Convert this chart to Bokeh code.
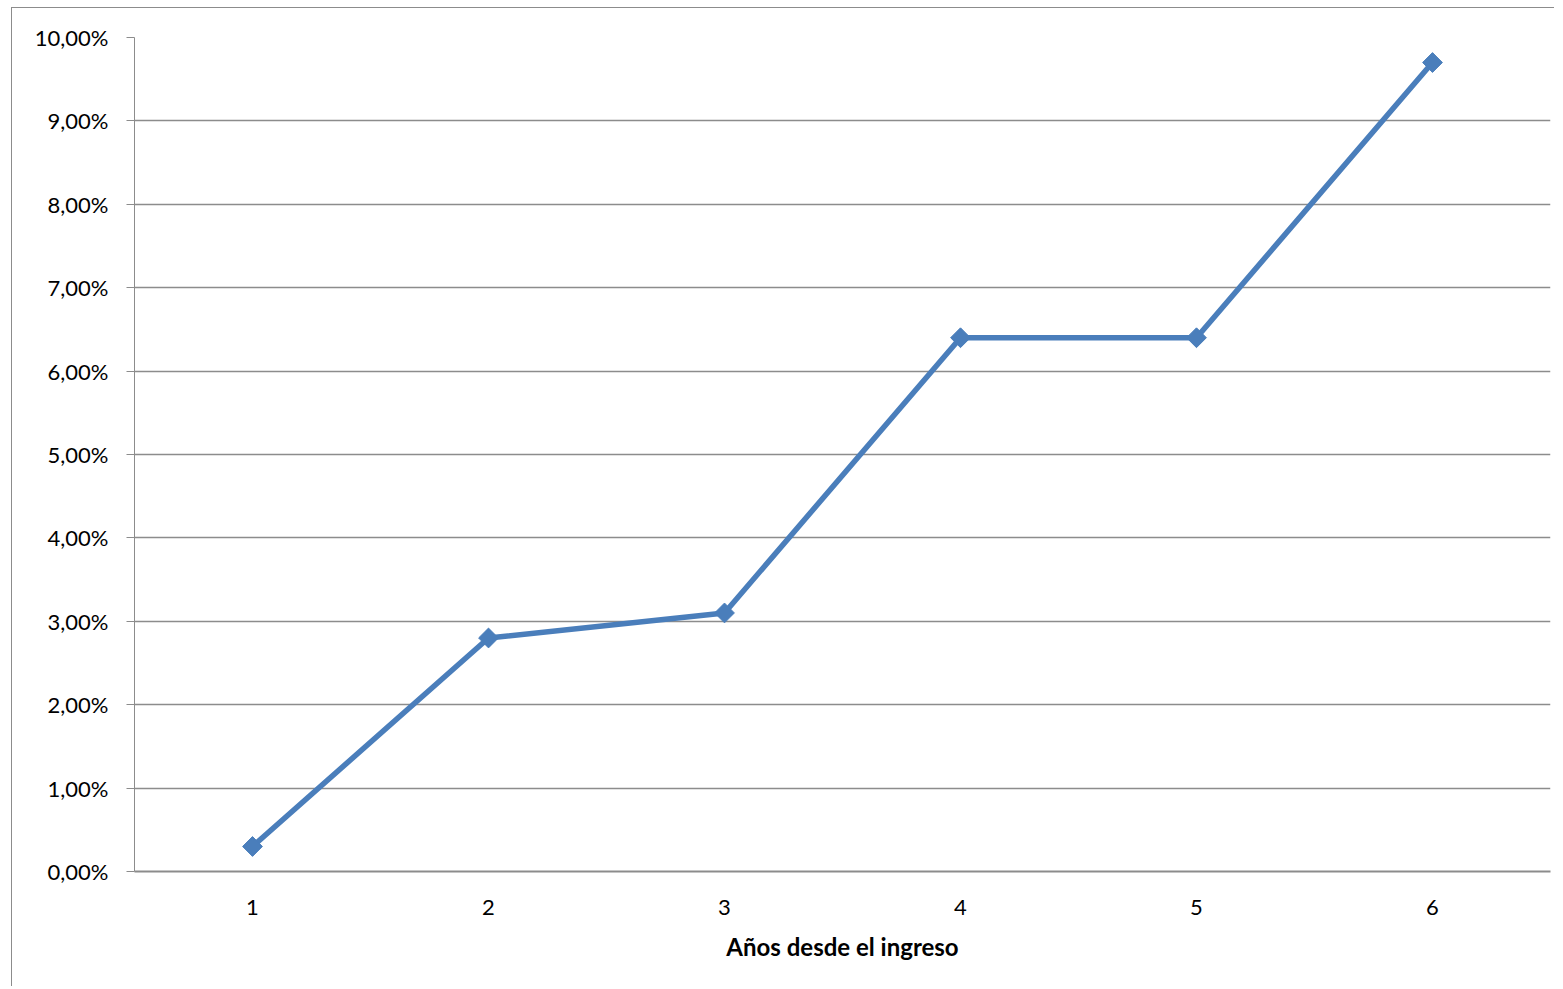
from bokeh.plotting import figure
from bokeh.models import Range1d, FixedTicker, CustomJSTickFormatter
from bokeh.embed import file_html
from bokeh.resources import INLINE
import math

# Data
years = [1, 2, 3, 4, 5, 6]
year_labels = ["1", "2", "3", "4", "5", "6"]
rates = [0.3, 2.8, 3.1, 6.4, 6.4, 9.7]  # percent
y_ticks = [0, 1, 2, 3, 4, 5, 6, 7, 8, 9, 10]
x_title = "Años desde el ingreso"

BLUE = "#4a7ebb"
GRID = "#8c8c8c"
FONT = "Lato"

p = figure(width=1543, height=979, output_backend="svg", toolbar_location=None,
           x_range=Range1d(0.5, 6.5), y_range=Range1d(0, 10),
           min_border_left=122, min_border_right=5, min_border_top=29, min_border_bottom=116)
p.outline_line_color = None
p.background_fill_color = "white"
p.border_fill_color = "white"
p.styles = {"margin-left": "11px", "margin-top": "7px",
            "border-left": "1.5px solid #8c8c8c", "border-top": "1.5px solid #8c8c8c"}

# y axis
p.yaxis.ticker = FixedTicker(ticks=y_ticks)
p.yaxis.formatter = CustomJSTickFormatter(code="return tick.toFixed(2).replace('.', ',') + '%';")
p.yaxis.axis_line_color = GRID
p.yaxis.major_tick_line_color = GRID
p.yaxis.major_tick_out = 8
p.yaxis.major_tick_in = 0
p.yaxis.minor_tick_line_color = None
p.yaxis.major_label_text_font = FONT
p.yaxis.major_label_text_font_size = "22px"
p.yaxis.major_label_text_color = "black"
p.yaxis.major_label_standoff = 18

# x axis
p.xaxis.ticker = FixedTicker(ticks=years)
p.xaxis.major_label_overrides = {y: l for y, l in zip(years, year_labels)}
p.xaxis.axis_line_color = GRID
p.xaxis.axis_line_width = 2
p.xaxis.major_tick_line_color = None
p.xaxis.minor_tick_line_color = None
p.xaxis.major_label_text_font = FONT
p.xaxis.major_label_text_font_size = "22px"
p.xaxis.major_label_text_color = "black"
p.xaxis.major_label_standoff = 22
p.xaxis.axis_label = x_title
p.xaxis.axis_label_text_font = FONT
p.xaxis.axis_label_text_font_size = "24px"
p.xaxis.axis_label_text_font_style = "bold"
p.xaxis.axis_label_text_color = "black"
p.xaxis.axis_label_standoff = 14

p.xgrid.grid_line_color = None
p.ygrid.ticker = FixedTicker(ticks=y_ticks)
p.ygrid.grid_line_color = GRID
p.ygrid.grid_line_width = 1.5

p.line(years, rates, line_color=BLUE, line_width=5.5)
p.scatter(years, rates, marker="square", angle=math.pi / 4, size=14,
          fill_color=BLUE, line_color=BLUE)

open("out.html", "w").write(file_html(p, INLINE))
